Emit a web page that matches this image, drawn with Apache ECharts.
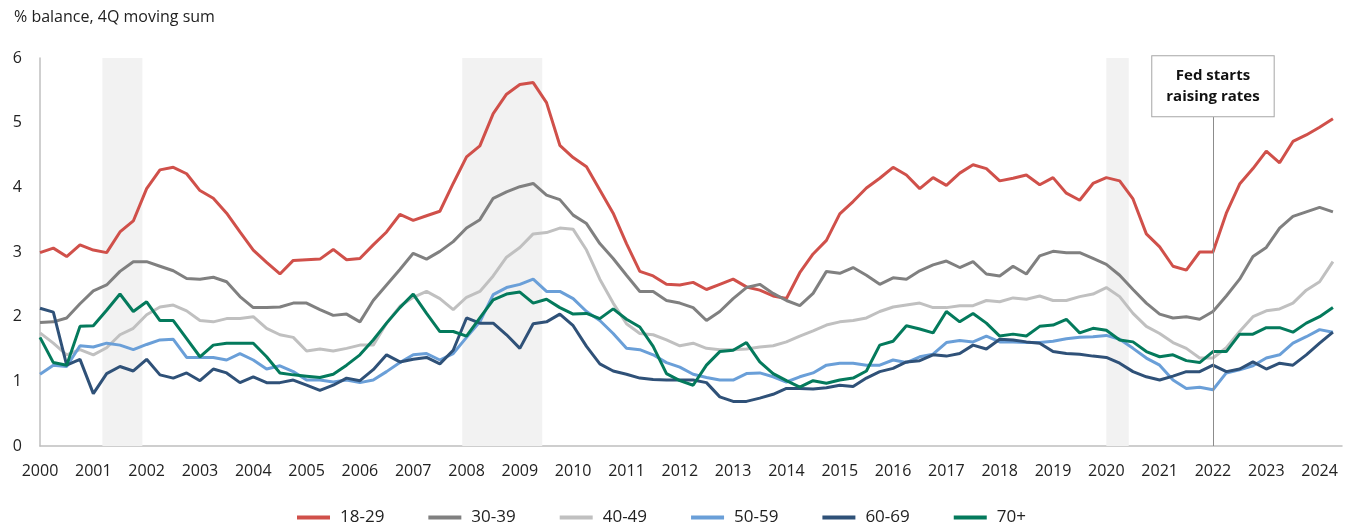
<!DOCTYPE html>
<html>
<head>
<meta charset="utf-8">
<script src="https://cdn.jsdelivr.net/npm/echarts@6/dist/echarts.min.js"></script>
<style>
  html, body { margin: 0; padding: 0; background: #fff; }
  #chart { width: 1351px; height: 531px; }
</style>
</head>
<body>
<div id="chart"></div>
<script>
// quarterly data, 2000Q1 .. 2024Q2
var startYear = 2000;

var age18_29 = [2.99, 3.06, 2.93, 3.11, 3.03, 2.99, 3.31, 3.48, 3.98, 4.27, 4.31, 4.21, 3.95, 3.83, 3.60, 3.31, 3.03,
	2.84, 2.66, 2.87, 2.88, 2.89, 3.04, 2.88, 2.90, 3.11, 3.31, 3.58, 3.49, 3.56, 3.63, 4.06, 4.47,
	4.64, 5.14, 5.44, 5.59, 5.62, 5.31, 4.65, 4.46, 4.32, 3.96, 3.60, 3.13, 2.70, 2.63, 2.50, 2.49, 2.53,
	2.42, 2.50, 2.58, 2.46, 2.41, 2.32, 2.28, 2.68, 2.97, 3.18, 3.59, 3.78, 3.99, 4.14, 4.31, 4.19,
	3.98, 4.15, 4.03, 4.22, 4.35, 4.29, 4.10, 4.14, 4.19, 4.04, 4.15, 3.91, 3.80, 4.06, 4.15, 4.10,
	3.82, 3.28, 3.08, 2.78, 2.72, 3.00, 3.00, 3.60, 4.05, 4.29, 4.56, 4.38, 4.71, 4.81, 4.93, 5.06];

var age30_39 = [1.91, 1.92, 1.98, 2.20, 2.40, 2.49, 2.70, 2.85, 2.85, 2.78, 2.71, 2.59, 2.58, 2.61, 2.54, 2.31, 2.14,
	2.14, 2.15, 2.21, 2.21, 2.11, 2.02, 2.04, 1.92, 2.25, 2.49, 2.73, 2.98, 2.89, 3.01, 3.16, 3.37,
	3.50, 3.83, 3.93, 4.01, 4.06, 3.88, 3.81, 3.57, 3.44, 3.13, 2.90, 2.64, 2.39, 2.39, 2.25, 2.21, 2.14,
	1.94, 2.08, 2.28, 2.45, 2.50, 2.36, 2.25, 2.17, 2.36, 2.70, 2.67, 2.76, 2.64, 2.50, 2.60, 2.58,
	2.71, 2.80, 2.86, 2.76, 2.85, 2.66, 2.63, 2.78, 2.66, 2.94, 3.01, 2.99, 2.99, 2.90, 2.81, 2.64,
	2.42, 2.21, 2.04, 1.98, 2.00, 1.96, 2.08, 2.32, 2.58, 2.93, 3.07, 3.37, 3.55, 3.62, 3.69, 3.62];

var age40_49 = [1.75, 1.59, 1.41, 1.49, 1.41, 1.52, 1.72, 1.82, 2.03, 2.15, 2.18, 2.09, 1.94, 1.92, 1.97, 1.97, 2.00,
	1.82, 1.72, 1.68, 1.47, 1.50, 1.47, 1.51, 1.56, 1.56, 1.90, 2.16, 2.30, 2.39, 2.28, 2.11, 2.30,
	2.39, 2.63, 2.92, 3.07, 3.28, 3.30, 3.37, 3.35, 3.03, 2.58, 2.21, 1.89, 1.74, 1.72, 1.64, 1.55, 1.59,
	1.51, 1.49, 1.49, 1.50, 1.53, 1.55, 1.61, 1.70, 1.78, 1.87, 1.92, 1.94, 1.98, 2.08, 2.15, 2.18,
	2.21, 2.14, 2.14, 2.17, 2.17, 2.25, 2.23, 2.29, 2.27, 2.32, 2.25, 2.25, 2.31, 2.35, 2.45, 2.31,
	2.05, 1.85, 1.74, 1.60, 1.51, 1.36, 1.36, 1.52, 1.77, 2.00, 2.09, 2.12, 2.21, 2.41, 2.54, 2.85];

var age50_59 = [1.11, 1.25, 1.23, 1.55, 1.53, 1.59, 1.56, 1.49, 1.57, 1.64, 1.65, 1.37, 1.37, 1.37, 1.33, 1.43, 1.33,
	1.19, 1.24, 1.15, 1.02, 1.02, 0.99, 1.02, 0.98, 1.02, 1.15, 1.29, 1.41, 1.43, 1.33, 1.43, 1.68,
	1.92, 2.34, 2.45, 2.50, 2.58, 2.39, 2.39, 2.28, 2.08, 1.94, 1.74, 1.51, 1.49, 1.41, 1.29, 1.22, 1.11,
	1.06, 1.02, 1.02, 1.12, 1.13, 1.07, 0.99, 1.07, 1.13, 1.25, 1.28, 1.28, 1.25, 1.25, 1.33, 1.29,
	1.38, 1.42, 1.60, 1.63, 1.61, 1.70, 1.61, 1.61, 1.60, 1.60, 1.62, 1.66, 1.68, 1.69, 1.71, 1.65,
	1.51, 1.36, 1.25, 1.02, 0.89, 0.91, 0.87, 1.13, 1.18, 1.24, 1.36, 1.41, 1.59, 1.69, 1.80, 1.76];

var age60_69 = [2.13, 2.07, 1.25, 1.34, 0.81, 1.12, 1.23, 1.16, 1.34, 1.10, 1.05, 1.13, 1.01, 1.19, 1.13, 0.98, 1.07,
	0.98, 0.98, 1.02, 0.94, 0.86, 0.94, 1.05, 1.01, 1.18, 1.41, 1.30, 1.34, 1.37, 1.27, 1.48, 1.98,
	1.90, 1.90, 1.72, 1.51, 1.89, 1.92, 2.04, 1.86, 1.54, 1.27, 1.16, 1.11, 1.05, 1.03, 1.02, 1.02, 1.02,
	0.98, 0.76, 0.69, 0.69, 0.74, 0.80, 0.89, 0.89, 0.88, 0.90, 0.94, 0.92, 1.05, 1.15, 1.20, 1.30,
	1.32, 1.41, 1.39, 1.43, 1.56, 1.50, 1.65, 1.64, 1.61, 1.59, 1.46, 1.43, 1.42, 1.39, 1.37, 1.28,
	1.15, 1.07, 1.02, 1.08, 1.15, 1.15, 1.25, 1.15, 1.19, 1.30, 1.19, 1.28, 1.25, 1.41, 1.59, 1.76];

var age70plus = [1.68, 1.29, 1.25, 1.85, 1.86, 2.10, 2.35, 2.08, 2.23, 1.94, 1.94, 1.66, 1.38, 1.56, 1.59, 1.59, 1.59,
	1.38, 1.13, 1.10, 1.08, 1.06, 1.11, 1.25, 1.41, 1.64, 1.90, 2.14, 2.35, 2.05, 1.77, 1.77, 1.70,
	1.98, 2.26, 2.35, 2.38, 2.21, 2.27, 2.14, 2.04, 2.05, 1.97, 2.12, 1.96, 1.84, 1.54, 1.12, 1.01, 0.94,
	1.25, 1.46, 1.48, 1.60, 1.30, 1.12, 1.01, 0.91, 1.01, 0.97, 1.02, 1.05, 1.16, 1.56, 1.62, 1.86,
	1.81, 1.75, 2.08, 1.92, 2.05, 1.90, 1.70, 1.73, 1.70, 1.85, 1.87, 1.96, 1.75, 1.82, 1.79, 1.64,
	1.61, 1.46, 1.38, 1.41, 1.32, 1.29, 1.46, 1.46, 1.73, 1.73, 1.83, 1.83, 1.76, 1.90, 2.00, 2.14];

var seriesNames = ['18-29', '30-39', '40-49', '50-59', '60-69', '70+'];
var seriesColors = ['#d0504a', '#808080', '#c0c0c0', '#6a9fd8', '#2f5178', '#047a5c'];
var allValues = [age18_29, age30_39, age40_49, age50_59, age60_69, age70plus];

// recession periods (shaded) and the Fed marker
var recessions = [[2001.17, 2001.92], [2007.92, 2009.42], [2020.0, 2020.42]];
var fedStart = 2022.0;
var fedLabel = 'Fed starts\nraising rates';

var yTicks = { min: 0, max: 6, step: 1 };
var xRange = { min: 2000, max: 2024.42, step: 1 };

var font = '"Open Sans", "Noto Sans", sans-serif';

function toPairs(vals) {
	return vals.map(function(v, i) {
		return [startYear + i / 4, v];
	});
}

var series = allValues.map(function(vals, k) {
	return {
		name: seriesNames[k],
		type: 'line',
		data: toPairs(vals),
		symbol: 'none',
		lineStyle: { width: 3, color: seriesColors[k] },
		itemStyle: { color: seriesColors[k] },
		z: 3
	};
});

// shading + marker line sit on the first series
series[0].markArea = {
	silent: true,
	itemStyle: { color: '#f2f2f2' },
	data: recessions.map(function(r) {
		return [{ xAxis: r[0] }, { xAxis: r[1] }];
	})
};
series[0].markLine = {
	silent: true,
	symbol: 'none',
	lineStyle: { color: '#8c8c8c', width: 1, type: 'solid' },
	label: {
		show: true,
		position: 'end',
		formatter: fedLabel,
		color: '#111',
		fontFamily: font,
		fontWeight: 'bold',
		fontSize: 15,
		lineHeight: 21,
		align: 'center',
		backgroundColor: '#fff',
		borderColor: '#a6a6a6',
		borderWidth: 1,
		padding: [9, 14, 9, 14],
		distance: 0
	},
	data: [[{ coord: [fedStart, 0] }, { coord: [fedStart, 5.1] }]]
};

var chart = echarts.init(document.getElementById('chart'));

var option = {
	animation: false,
	backgroundColor: '#fff',
	textStyle: { fontFamily: font },
	title: {
		text: '% balance, 4Q moving sum',
		left: 9,
		top: 4,
		textStyle: { fontSize: 16, fontWeight: 'normal', color: '#222', fontFamily: font }
	},
	grid: { left: 40, right: 9, top: 58, bottom: 85 },
	legend: {
		bottom: 0,
		left: 292,
		icon: 'rect',
		itemWidth: 33,
		itemHeight: 4,
		itemGap: 44,
		textStyle: { fontSize: 17, color: '#222', fontFamily: font, padding: [0, 0, 0, 5] },
		data: seriesNames
	},
	xAxis: {
		type: 'value',
		min: xRange.min,
		max: xRange.max,
		interval: xRange.step,
		axisLine: { show: true, lineStyle: { color: '#bfbfbf', width: 1.5 } },
		axisTick: { show: false },
		splitLine: { show: false },
		axisLabel: {
			margin: 17,
			fontSize: 16,
			color: '#222',
			fontFamily: font,
			showMaxLabel: false,
			formatter: function(v) {
				return v % 1 === 0 ? String(v) : '';
			}
		}
	},
	yAxis: {
		type: 'value',
		min: yTicks.min,
		max: yTicks.max,
		interval: yTicks.step,
		axisLine: { show: true, lineStyle: { color: '#bfbfbf', width: 1.5 } },
		axisTick: { show: false },
		splitLine: { show: false },
		axisLabel: { margin: 18, fontSize: 16, color: '#222', fontFamily: font }
	},
	series: series
};

chart.setOption(option);
</script>
</body>
</html>
